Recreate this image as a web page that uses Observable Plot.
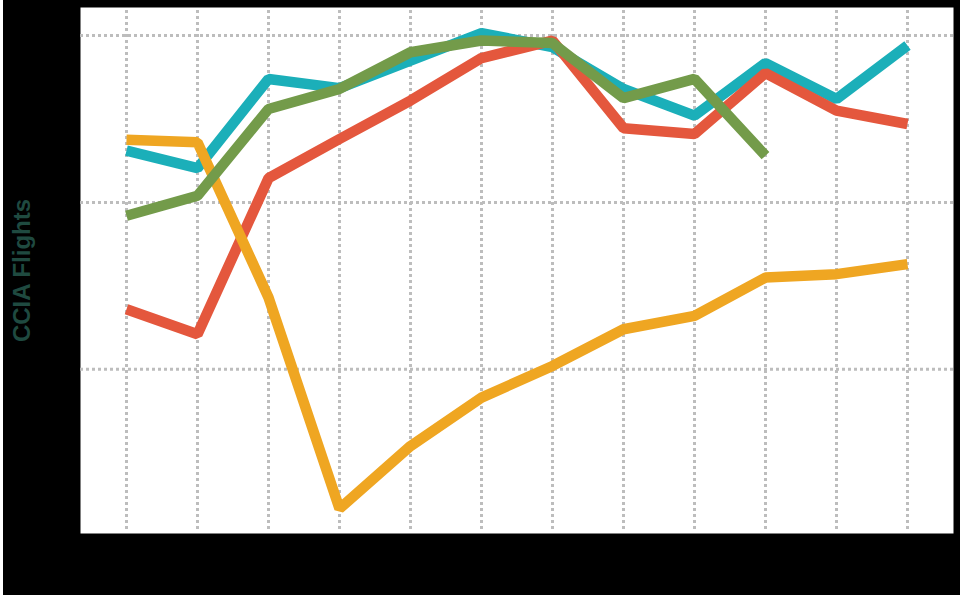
<!DOCTYPE html>
<html>
<head>
<meta charset="utf-8">
<script src="https://cdn.jsdelivr.net/npm/d3@7"></script>
<script src="https://cdn.jsdelivr.net/npm/@observablehq/plot@0.6"></script>
<style>
  html, body { margin: 0; padding: 0; background: #ffffff; }
  #chart { width: 960px; height: 600px; }
</style>
</head>
<body>
<div id="chart"></div>
<script>
// Categories (12 monthly points)
const months = ["Jan", "Feb", "Mar", "Apr", "May", "Jun", "Jul", "Aug", "Sep", "Oct", "Nov", "Dec"];

// Series
const seriesNames = ["Series 1", "Series 2", "Series 3", "Series 4"];
const series1 = [2310, 2205, 2740, 2685, 2850, 3015, 2930, 2680, 2520, 2835, 2620, 2940];            // teal
const series2 = [1360, 1210, 2145, 2380, 2610, 2865, 2970, 2445, 2410, 2775, 2550, 2470];            // red
const series3 = [2375, 2360, 1430, 165, 540, 830, 1020, 1240, 1320, 1550, 1570, 1630];               // amber
const series4 = [1920, 2040, 2560, 2680, 2900, 2970, 2955, 2625, 2740, 2280];                        // green (ends in Oct)
const seriesColors = ["#1bafb9", "#e4573d", "#efa622", "#739b4a"];

// Y grid ticks
const yTicks = [1000, 2000, 3000];
const yLabel = "CCIA Flights";

// Build long table (drawing order: teal, red, amber, green)
const valueLists = [series1, series2, series3, series4];
const data = [];
valueLists.forEach((vals, s) => {
  vals.forEach((v, i) => data.push({series: seriesNames[s], month: months[i], value: v}));
});

const chart = Plot.plot({
  width: 960,
  height: 600,
  marginLeft: 83,
  marginRight: 10,
  marginTop: 10,
  marginBottom: 70,
  style: {fontFamily: "'Liberation Sans', Arial, sans-serif", overflow: "visible"},
  x: {type: "point", domain: months, padding: 0.583, axis: null},
  y: {domain: [34, 3150], axis: null},
  color: {domain: seriesNames, range: seriesColors},
  marks: [
    Plot.frame({fill: "#ffffff", stroke: "#ffffff", strokeWidth: 6}),
    Plot.gridX(months, {stroke: "#bdbdbd", strokeOpacity: 1, strokeWidth: 3, strokeDasharray: "3,3"}),
    Plot.gridY(yTicks, {stroke: "#bdbdbd", strokeOpacity: 1, strokeWidth: 3, strokeDasharray: "3,3", insetLeft: -3, insetRight: -3}),
    Plot.lineY(data, {
      x: "month", y: "value", z: "series", stroke: "series",
      strokeWidth: 10.5, strokeLinejoin: "miter", strokeLinecap: "butt"
    }),
    Plot.text([yLabel], {
      frameAnchor: "left", dx: -61, rotate: -90, textAnchor: "middle",
      fill: "#1f4a40", fontSize: 24, fontWeight: "bold"
    })
  ]
});
chart.style.background = "linear-gradient(to bottom, rgba(0,0,0,0) 595px, #ffffff 595px), linear-gradient(to right, #ffffff 3px, #000000 3px)";
document.getElementById("chart").appendChild(chart);
</script>
</body>
</html>
